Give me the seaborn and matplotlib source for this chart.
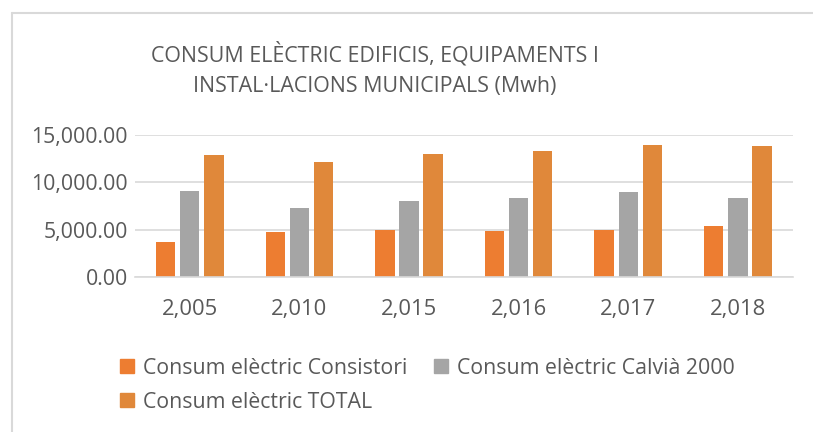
import pandas as pd
import matplotlib.pyplot as plt
import seaborn as sns
from matplotlib.lines import Line2D
from matplotlib.ticker import FuncFormatter

# Dades (MWh)
anys = ["2,005", "2,010", "2,015", "2,016", "2,017", "2,018"]
consistori = [3690, 4740, 5000, 4810, 4920, 5340]
calvia_2000 = [9140, 7310, 8010, 8330, 9030, 8360]
total = [12900, 12120, 13000, 13280, 13980, 13810]

series = ["Consum elèctric Consistori", "Consum elèctric Calvià 2000", "Consum elèctric TOTAL"]
colors = ["#ED7D31", "#A5A5A5", "#E0883A"]

df = pd.DataFrame({"any": anys, series[0]: consistori, series[1]: calvia_2000, series[2]: total})
df = df.melt(id_vars="any", var_name="serie", value_name="valor")

sns.set_style("white")
plt.rcParams["font.family"] = ["Open Sans", "DejaVu Sans"]
text_col = "#595959"

fig = plt.figure(figsize=(8.13, 4.32), dpi=100)
ax = fig.add_axes([0.166, 0.359, 0.809, 0.328])

sns.barplot(data=df, x="any", y="valor", hue="serie", hue_order=series,
            palette=colors, saturation=1, width=0.66, gap=0.2, linewidth=0,
            ax=ax, legend=False)

ax.set_ylim(0, 15000)
ax.set_yticks([0, 5000, 10000, 15000])
ax.yaxis.set_major_formatter(FuncFormatter(lambda v, p: f"{v:,.2f}"))
ax.grid(axis="y", color="#D9D9D9", linewidth=1.2)
ax.set_axisbelow(True)
for s in ["top", "right", "left"]:
    ax.spines[s].set_visible(False)
ax.spines["bottom"].set_color("#D9D9D9")
ax.spines["bottom"].set_linewidth(1.2)
ax.tick_params(axis="y", length=0, labelsize=15.3, colors=text_col, pad=5)
ax.tick_params(axis="x", length=0, labelsize=15.8, colors=text_col, pad=16)
ax.set_xlabel("")
ax.set_ylabel("")

fig.text(0.461, 0.84, "CONSUM ELÈCTRIC EDIFICIS, EQUIPAMENTS I\nINSTAL·LACIONS MUNICIPALS (Mwh)",
         ha="center", va="center", fontsize=15.4, color=text_col, linespacing=1.6)

# Llegenda (ordre per files)
handles = [plt.Rectangle((0, 0), 1, 1, color=c) for c in colors]
order = [0, 2, 1]
fig.legend([handles[i] for i in order], [series[i] for i in order],
           loc="upper left", bbox_to_anchor=(0.148, 0.172), ncol=2,
           frameon=False, fontsize=15.3, labelcolor=text_col, handlelength=0.65,
           handleheight=0.65, handletextpad=0.42, columnspacing=1.25, labelspacing=0.62,
           borderaxespad=0, borderpad=0)

# Vora del gràfic
fig.add_artist(Line2D([0.0148, 0.0148], [0.0, 0.97], color="#D9D9D9", lw=1.5, transform=fig.transFigure))
fig.add_artist(Line2D([0.0148, 1.0], [0.97, 0.97], color="#D9D9D9", lw=1.5, transform=fig.transFigure))

fig.savefig("out.png", dpi=100)
